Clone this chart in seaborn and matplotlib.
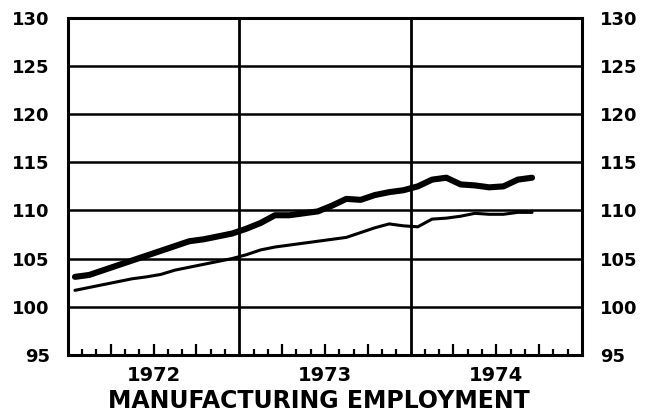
import matplotlib
matplotlib.use("Agg")
import matplotlib.pyplot as plt
import seaborn as sns
import pandas as pd

# monthly index, Jan 1972 .. Sep 1974
months = list(range(33))
upper = [103.1, 103.3, 103.8, 104.3, 104.8, 105.3, 105.8, 106.3, 106.8, 107.0, 107.3, 107.6,
         108.1, 108.7, 109.5, 109.5, 109.7, 109.9, 110.5, 111.2, 111.1, 111.6, 111.9, 112.1,
         112.5, 113.2, 113.4, 112.7, 112.6, 112.4, 112.5, 113.2, 113.4]
lower = [101.7, 102.0, 102.3, 102.6, 102.9, 103.1, 103.35, 103.8, 104.1, 104.4, 104.7, 105.0,
         105.4, 105.9, 106.2, 106.4, 106.6, 106.8, 107.0, 107.2, 107.7, 108.2, 108.6, 108.4,
         108.3, 109.1, 109.2, 109.4, 109.7, 109.6, 109.6, 109.8, 109.8]
years = ["1972", "1973", "1974"]
yticks = [95, 100, 105, 110, 115, 120, 125, 130]
title = "MANUFACTURING EMPLOYMENT"

df = pd.DataFrame({"month": [m + 0.5 for m in months], "upper": upper, "lower": lower})

sns.set_style("white")
plt.rcParams["font.family"] = ["DejaVu Sans"]
plt.rcParams["font.weight"] = "bold"
plt.rcParams["text.color"] = "black"
plt.rcParams["xtick.color"] = "black"
plt.rcParams["ytick.color"] = "black"

fig = plt.figure(figsize=(6.46, 4.16), dpi=100)
ax = fig.add_axes([0.105, 0.147, 0.796, 0.81])

sns.lineplot(data=df, x="month", y="upper", ax=ax, color="black", linewidth=4.4,
             solid_capstyle="round")
sns.lineplot(data=df, x="month", y="lower", ax=ax, color="black", linewidth=2.2,
             solid_capstyle="round")

ax.set_xlim(0, 36)
ax.set_ylim(95, 130)
ax.set_yticks(yticks)
for v in yticks[1:-1]:
    ax.axhline(v, color="black", linewidth=1.8, zorder=1)
for x in [12, 24]:
    ax.axvline(x, color="black", linewidth=2.0, zorder=1)

for s in ax.spines.values():
    s.set_visible(True)
    s.set_color("black")
    s.set_linewidth(2.2)

# month ticks on the bottom axis, taller at quarters
ax.set_xticks([q for q in range(3, 36, 3) if q % 12 != 0])
ax.set_xticks([m for m in range(1, 36) if m % 3 != 0], minor=True)
ax.tick_params(axis="x", which="major", direction="in", length=8, width=1.6,
               labelbottom=False, bottom=True)
ax.tick_params(axis="x", which="minor", direction="in", length=4, width=1.6, bottom=True)
ax.tick_params(axis="y", length=0, labelsize=13, labelleft=True, labelright=True, pad=13,
               labelcolor="black")
for lab in ax.get_yticklabels():
    lab.set_fontweight("bold")

sec = ax.secondary_xaxis("bottom")
sec.set_xticks([6, 18, 30], labels=years)
sec.tick_params(length=0, labelsize=14, pad=8, labelcolor="black")
sec.spines["bottom"].set_visible(False)
for lab in sec.get_xticklabels():
    lab.set_fontweight("bold")

ax.set_xlabel("")
ax.set_ylabel("")
fig.text(0.493, 0.035, title, ha="center", va="center", fontsize=17, fontweight="bold",
         color="black")

fig.savefig("out.png", dpi=100, facecolor="white")
